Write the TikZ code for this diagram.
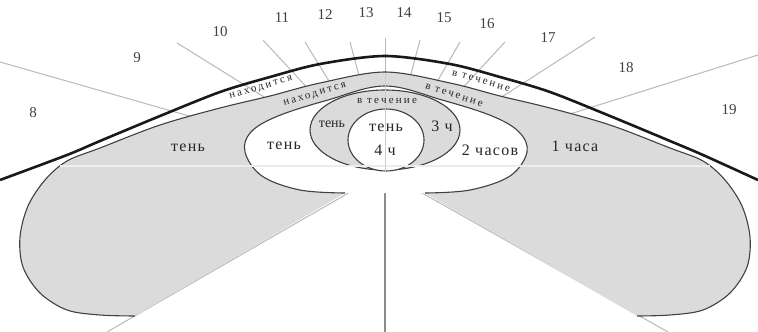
\documentclass[tikz,border=0pt]{standalone}
\usepackage{fontspec}
\setmainfont{Liberation Serif}
\newfontfamily\arcfont[LetterSpace=20]{Liberation Serif}
\newfontfamily\lblfont[LetterSpace=8]{Liberation Serif}
\begin{document}
\begin{tikzpicture}[x=1pt,y=-1pt,
  ray/.style={draw=black!28, line width=1pt},
  outline/.style={draw=black!75, line width=1.1pt},
  shadefill/.style={fill=black!14},
  hour/.style={font=\fontsize{15}{15}\selectfont, text=black!75, inner sep=0pt},
  lbl/.style={font=\lblfont\fontsize{16}{16}\selectfont, text=black!85, inner sep=0pt},
  smalllbl/.style={font=\fontsize{14}{14}\selectfont, text=black!85, inner sep=0pt},
  arctext/.style={font=\arcfont\fontsize{11}{11}\selectfont, text=black!85, inner sep=0pt},
]
\useasboundingbox (0,0) rectangle (758,332);
% centre of the rays
\coordinate (O) at (385,172);
\coordinate (r1) at (0,62);
\coordinate (r2) at (177,43);
\coordinate (r3) at (263,40);
\coordinate (r4) at (305,42);
\coordinate (r5) at (350,42);
\coordinate (r6) at (385,38);
\coordinate (r7) at (420,40);
\coordinate (r8) at (460,42);
\coordinate (r9) at (505,42);
\coordinate (r10) at (595,37);
\coordinate (r11) at (758,55);
\coordinate (d1) at (107,332);
\coordinate (d2) at (668,332);
\coordinate (d3) at (385,332);
\foreach \i in {1,...,11} \draw[ray] (O) -- (r\i);
\draw[ray] (O) -- (d1);
\draw[ray] (O) -- (d2);
\draw[draw=black!45, line width=1.1pt] (O) -- (d3);

% big shaded region (1 hour)
\path[shadefill] plot[smooth, tension=0.55] coordinates {(135,316) (100,315) (67,310) (40,293) (23,267) (20,237) (28,206) (45,180) (67,161) (100,148) (160,125) (220,108) (270,96) (320,83) (385,72) (450,83) (500,96) (550,108) (610,125) (670,148) (703,161) (725,180) (742,206) (750,237) (747,267) (730,293) (703,310) (670,315) (637,316)} -- (425,193) -- (345,193) -- cycle;
\draw[outline] plot[smooth, tension=0.55] coordinates {(135,316) (100,315) (67,310) (40,293) (23,267) (20,237) (28,206) (45,180) (67,161) (100,148) (160,125) (220,108) (270,96) (320,83) (385,72) (450,83) (500,96) (550,108) (610,125) (670,148) (703,161) (725,180) (742,206) (750,237) (747,267) (730,293) (703,310) (670,315) (637,316)};

% white region (2 hours)
\path[fill=white] plot[smooth, tension=0.6] coordinates {(345,193) (300,190) (262,176) (245,152) (251,132) (278,116) (328,100) (385,86) (442,100) (492,116) (519,132) (527,152) (510,176) (470,190) (425,193)} -- cycle;
\draw[outline] plot[smooth, tension=0.6] coordinates {(345,193) (300,190) (262,176) (245,152) (251,132) (278,116) (328,100) (385,86) (442,100) (492,116) (519,132) (527,152) (510,176) (470,190) (425,193)};

% ring (3 h) and centre (4 h)
\draw[outline, shadefill] (385,130) ellipse [x radius=75pt, y radius=40pt];
\draw[outline, fill=white] (386,140) ellipse [x radius=38pt, y radius=31pt];

% horizon line and faint centre line
\draw[draw=black!7, line width=1.3pt] (60,166) -- (710,166);
\draw[draw=black!20, line width=0.8pt] (385,73) -- (385,172);

% thick outline of the sun's path
\draw[line width=2.6pt, black!90] plot[smooth, tension=0.5] coordinates {(0,180) (67,155) (100,141) (160,116) (220,92) (270,77) (320,64) (385,56) (450,64) (500,77) (550,92) (610,116) (670,141) (703,155) (758,180)};

% hour labels
\node[hour] (h8) at (33,113) {8};
\node[hour] (h9) at (137,58) {9};
\node[hour] (h10) at (220,32) {10};
\node[hour] (h11) at (282,18) {11};
\node[hour] (h12) at (325,15) {12};
\node[hour] (h13) at (366,13) {13};
\node[hour] (h14) at (404,13) {14};
\node[hour] (h15) at (444,18) {15};
\node[hour] (h16) at (487,24) {16};
\node[hour] (h17) at (548,38) {17};
\node[hour] (h18) at (626,68) {18};
\node[hour] (h19) at (729,110) {19};

% region labels
\node[lbl] (t1) at (188,148) {тень};
\node[lbl] (t2) at (284,146) {тень};
\node[smalllbl] (t3) at (332,124) {тень};
\node[lbl] (t4) at (386,128) {тень};
\node[lbl] (c4) at (385,150) {4 ч};
\node[lbl] (c3) at (442,126) {3 ч};
\node[lbl] (c2) at (490,150) {2 часов};
\node[lbl] (c1) at (575,146) {1 часа};

% texts along the bands
\node[arctext, rotate=16] (a1) at (261,88) {находится};
\node[arctext, rotate=17] (a2) at (315,95) {находится};
\node[arctext, rotate=-16] (a3) at (481,81) {в течение};
\node[arctext, rotate=-18] (a4) at (454,95) {в течение};
\node[arctext] (a5) at (387,101) {в течение};
\end{tikzpicture}
\end{document}
